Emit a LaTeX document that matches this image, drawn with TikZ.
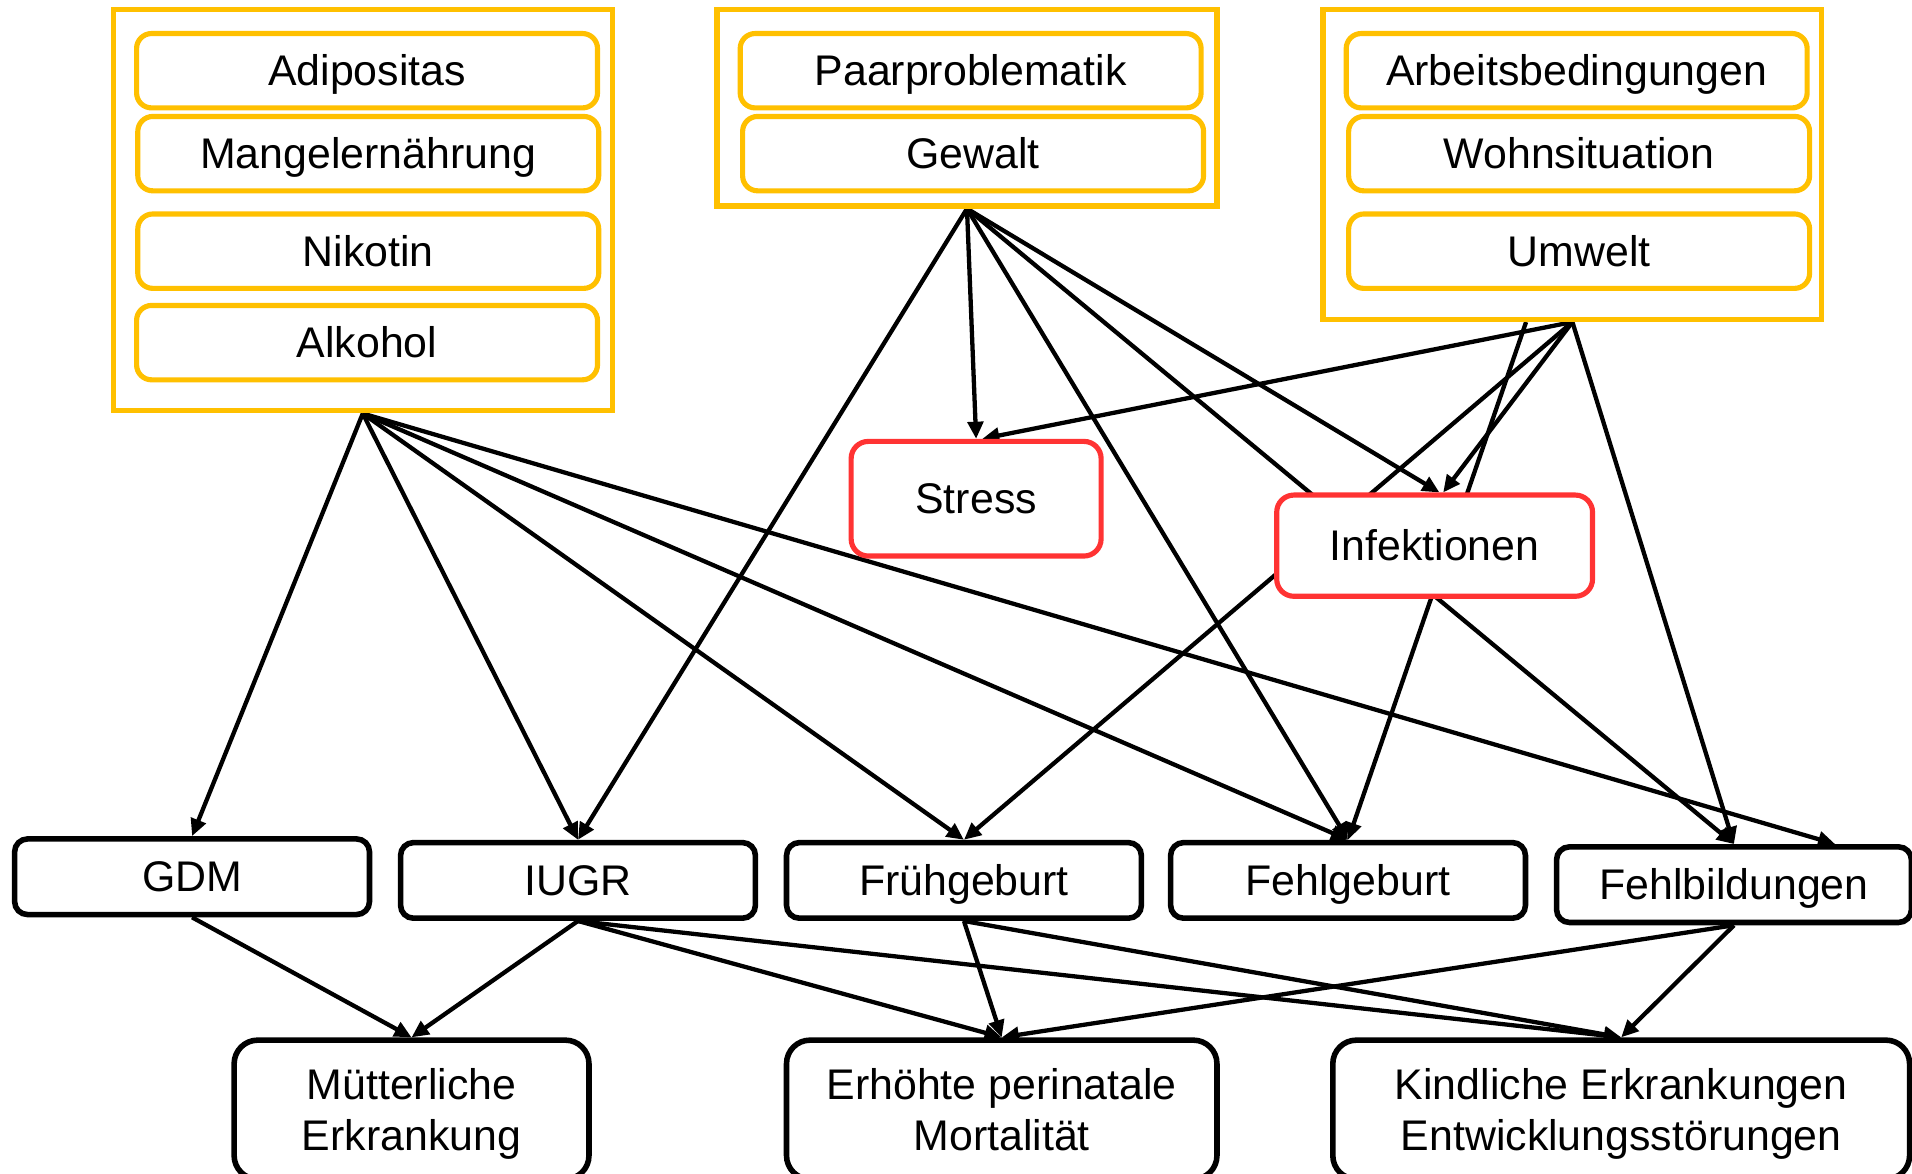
\documentclass[tikz,border=0pt]{standalone}
\usepackage{fontspec}
\setmainfont{Liberation Sans}
\usetikzlibrary{arrows.meta,backgrounds}
\definecolor{gelb}{RGB}{255,192,0}
\definecolor{rot}{RGB}{255,51,51}

\begin{document}
\begin{tikzpicture}[x=1cm, y=-1cm,
            font=\fontsize{10}{12}\selectfont,
            gruppe/.style={draw=gelb, line width=1.2pt, fill=white, inner sep=0pt},
            faktor/.style={draw=gelb, line width=1.2pt, rounded corners=3.5pt, fill=white, minimum width=3.78cm, minimum height=0.61cm, inner sep=0pt, text height=0.82em, text depth=0.11em},
            zwischen/.style={draw=rot, line width=1.2pt, rounded corners=4pt, fill=white, inner sep=0pt, text height=0.82em, text depth=0.11em},
            folge/.style={draw=black, line width=1.3pt, rounded corners=3pt, fill=white, minimum width=2.91cm, minimum height=0.62cm, inner sep=0pt, text height=0.82em, text depth=0.11em},
            ergebnis/.style={draw=black, line width=1.3pt, rounded corners=5.5pt, fill=white, minimum height=1.14cm, align=center, inner sep=0pt, text depth=0pt},
            pfeil/.style={line width=1pt, -{Triangle[length=4pt,width=3.6pt]}}]
            \useasboundingbox (0,0) rectangle (15.68,9.62);

            \node [gruppe, minimum width=4.09cm, minimum height=3.29cm] (lebensstil) at (2.975,1.725) {};
            \node [faktor] (adipositas) at (3.01,0.58) {Adipositas};
            \node [faktor] (mangel) at (3.02,1.26) {Mangelernährung};
            \node [faktor] (nikotin) at (3.02,2.06) {Nikotin};
            \node [faktor] (alkohol) at (3.01,2.81) {Alkohol};

            \node [gruppe, minimum width=4.10cm, minimum height=1.61cm] (beziehung) at (7.93,0.885) {};
            \node [faktor] (paar) at (7.96,0.58) {Paarproblematik};
            \node [faktor] (gewalt) at (7.98,1.26) {Gewalt};

            \node [gruppe, minimum width=4.09cm, minimum height=2.54cm] (umfeld) at (12.895,1.35) {};
            \node [faktor] (arbeit) at (12.93,0.58) {Arbeitsbedingungen};
            \node [faktor] (wohnen) at (12.95,1.26) {Wohnsituation};
            \node [faktor] (umwelt) at (12.95,2.06) {Umwelt};

            \node [zwischen, minimum width=2.05cm, minimum height=0.94cm] (stress) at (8.005,4.09) {Stress};
            \node [zwischen, minimum width=2.59cm, minimum height=0.83cm] (infekt) at (11.765,4.475) {Infektionen};

            \node [folge] (gdm) at (1.575,7.19) {GDM};
            \node [folge] (iugr) at (4.74,7.22) {IUGR};
            \node [folge] (frueh) at (7.905,7.22) {Frühgeburt};
            \node [folge] (fehlgeburt) at (11.055,7.22) {Fehlgeburt};
            \node [folge] (fehlbildung) at (14.22,7.255) {Fehlbildungen};

            \node [ergebnis, minimum width=2.91cm] (mutter) at (3.375,9.10) {Mütterliche\\Erkrankung};
            \node [ergebnis, minimum width=3.53cm] (mortal) at (8.215,9.10) {Erhöhte perinatale\\Mortalität};
            \node [ergebnis, minimum width=4.73cm] (kind) at (13.295,9.10) {Kindliche Erkrankungen\\Entwicklungsstörungen};

            \begin{scope}[on background layer]
                \fill [white] (0,0) rectangle (15.68,9.62);
                \draw [pfeil] (lebensstil.south) -- (gdm.north);
                \draw [pfeil] (lebensstil.south) -- (iugr.north);
                \draw [pfeil] (lebensstil.south) -- (frueh.north);
                \draw [pfeil] (lebensstil.south) -- (fehlgeburt.north);
                \draw [pfeil] (lebensstil.south) -- ([xshift=0.83cm]fehlbildung.north);
                \draw [pfeil] (beziehung.south) -- (iugr.north);
                \draw [pfeil] (beziehung.south) -- (stress.north);
                \draw [pfeil] (beziehung.south) -- (fehlgeburt.north);
                \draw [pfeil] (beziehung.south) -- (fehlbildung.north);
                \draw [pfeil] (beziehung.south) -- ([xshift=0.04cm]infekt.north);
                \draw [pfeil] (umfeld.south) -- ([xshift=0.05cm]stress.north);
                \draw [pfeil] (umfeld.south) -- (frueh.north);
                \draw [pfeil] (umfeld.south) -- ([xshift=0.07cm]infekt.north);
                \draw [pfeil] (umfeld.south) -- (fehlbildung.north);
                \draw [pfeil] ([xshift=-0.38cm]umfeld.south) -- (fehlgeburt.north);
                \draw [pfeil] (gdm.south) -- (mutter.north);
                \draw [pfeil] (iugr.south) -- (mutter.north);
                \draw [pfeil] (iugr.south) -- (mortal.north);
                \draw [pfeil] (iugr.south) -- (kind.north);
                \draw [pfeil] (frueh.south) -- (mortal.north);
                \draw [pfeil] (frueh.south) -- (kind.north);
                \draw [pfeil] (fehlbildung.south) -- (mortal.north);
                \draw [pfeil] (fehlbildung.south) -- (kind.north);
            \end{scope}
        \end{tikzpicture}
\end{document}
